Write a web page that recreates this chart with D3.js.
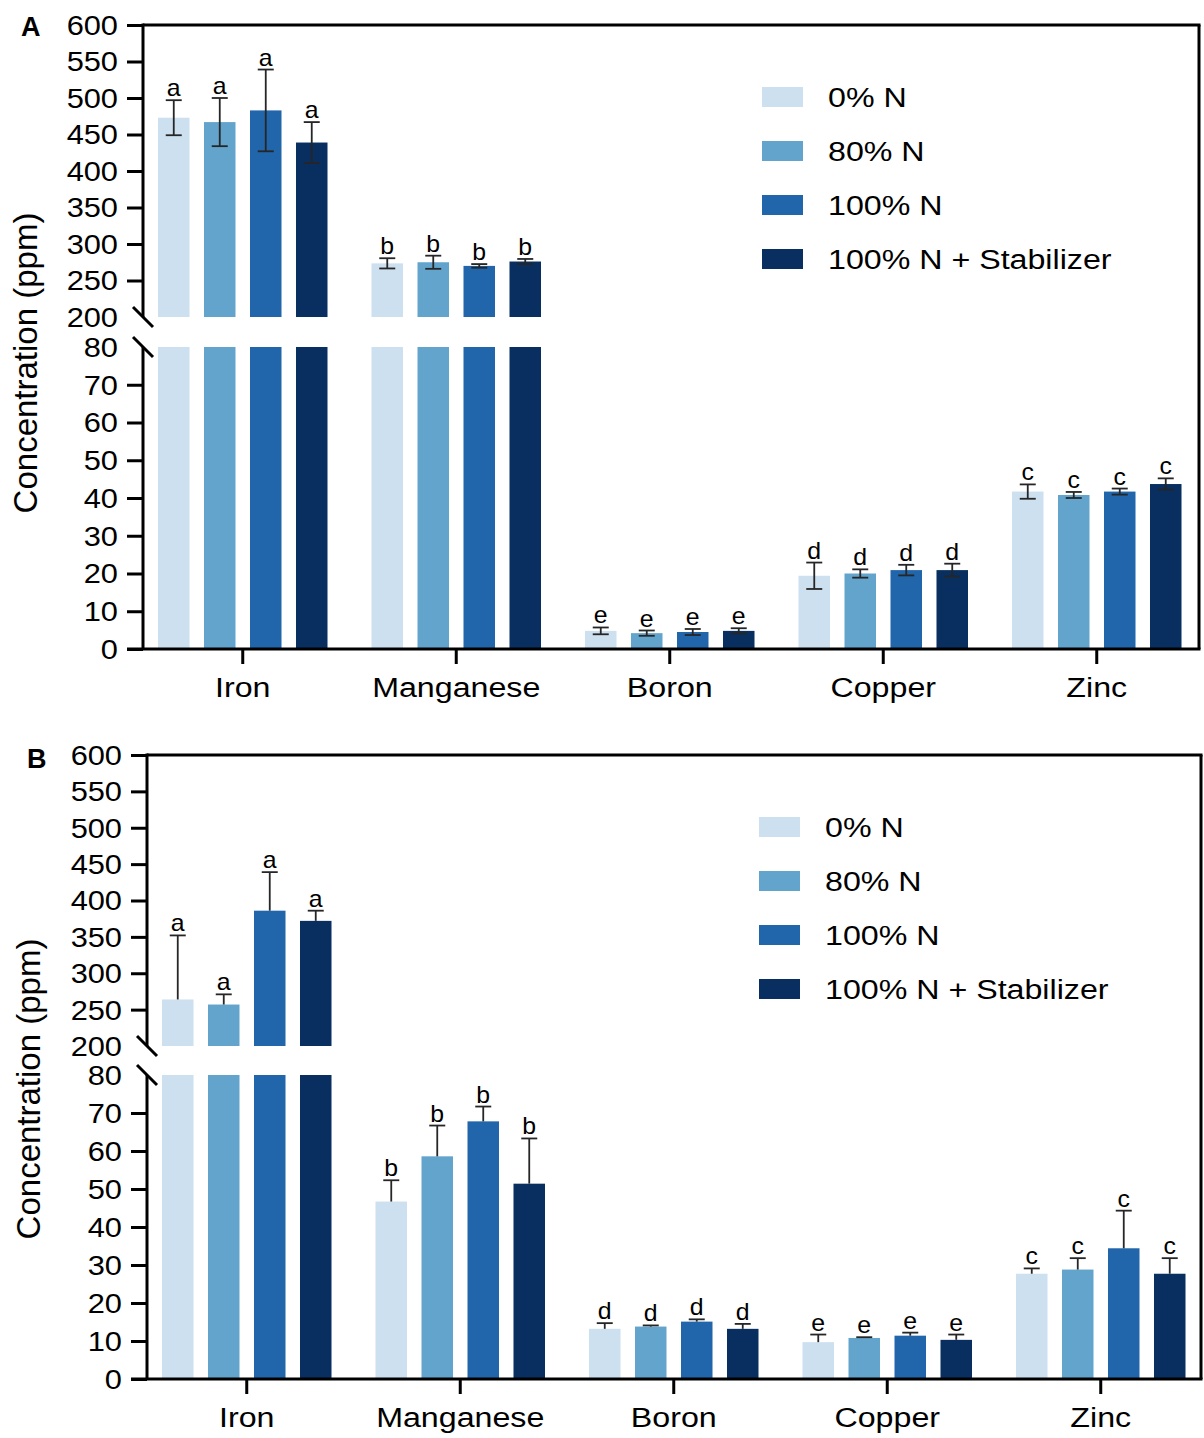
<!DOCTYPE html>
<html>
<head>
<meta charset="utf-8">
<script src="https://cdn.jsdelivr.net/npm/d3@7"></script>
<style>
  body { margin: 0; background: #fff; }
  svg { display: block; }
  text { font-family: "Liberation Sans", Arial, Helvetica, sans-serif; fill: #000; }
</style>
</head>
<body>
<svg id="chart" width="1204" height="1438"></svg>
<script>
// Micronutrient concentrations (ppm), mean and SD for each treatment
const categories = ["Iron", "Manganese", "Boron", "Copper", "Zinc"];
const series = ["0% N", "80% N", "100% N", "100% N + Stabilizer"];
const colors = ["#cde0f0", "#63a4cd", "#2165ab", "#082f60"];

// Panel A
const ironA = [473, 467, 483, 439];
const ironA_sd = [24, 33, 56, 28];
const manganeseA = [273.5, 275, 270, 276];
const manganeseA_sd = [7, 9, 2.5, 3.5];
const boronA = [4.8, 4.2, 4.5, 4.8];
const boronA_sd = [0.9, 0.7, 0.8, 0.7];
const copperA = [19.4, 20.0, 20.9, 20.9];
const copperA_sd = [3.5, 1.1, 1.4, 1.7];
const zincA = [41.7, 40.8, 41.7, 43.7];
const zincA_sd = [1.9, 0.8, 0.8, 1.5];
const lettersA = ["a", "b", "e", "d", "c"];

// Panel B
const ironB = [264, 257, 386, 372];
const ironB_sd = [88, 14, 53, 14];
const manganeseB = [46.7, 58.6, 67.8, 51.4];
const manganeseB_sd = [5.6, 8.1, 3.9, 11.9];
const boronB = [13.2, 13.8, 15.1, 13.2];
const boronB_sd = [1.5, 0.3, 0.6, 1.3];
const copperB = [9.7, 10.8, 11.4, 10.3];
const copperB_sd = [2.0, 0.2, 0.8, 1.4];
const zincB = [27.7, 28.8, 34.4, 27.7];
const zincB_sd = [1.4, 3.0, 9.9, 4.1];
const lettersB = ["a", "b", "d", "e", "c"];

// Broken y axis: upper segment 200–600, lower segment 0–80
const upperTicks = [200, 250, 300, 350, 400, 450, 500, 550, 600];
const lowerTicks = [0, 10, 20, 30, 40, 50, 60, 70, 80];

const panels = [
  {
    name: "A", top: 25, left: 143, right: 1199, hiY: 317, loY: 347, bottom: 649,
    bandStart: 136, legendX: 762, titleX: 25, titleY: 363, tagX: 21, tagY: 36,
    means: [ironA, manganeseA, boronA, copperA, zincA],
    sds: [ironA_sd, manganeseA_sd, boronA_sd, copperA_sd, zincA_sd],
    letters: lettersA, twoSided: true
  },
  {
    name: "B", top: 755, left: 147, right: 1201, hiY: 1046, loY: 1075, bottom: 1379,
    bandStart: 140, legendX: 759, titleX: 28, titleY: 1089, tagX: 27, tagY: 768,
    means: [ironB, manganeseB, boronB, copperB, zincB],
    sds: [ironB_sd, manganeseB_sd, boronB_sd, copperB_sd, zincB_sd],
    letters: lettersB, twoSided: false
  }
];

const svg = d3.select("#chart");
const AX = "#000";
const AXW = 3;

// text with a slight horizontal widening
function stext(g, x, y, str, size, anchor, sx, baseline) {
  return g.append("text")
    .attr("transform", `translate(${x},${y}) scale(${sx},1)`)
    .attr("text-anchor", anchor)
    .attr("dominant-baseline", baseline || "auto")
    .attr("font-size", size)
    .text(str);
}

panels.forEach(p => {
  const g = svg.append("g");

  const yU = d3.scaleLinear().domain([200, 600]).range([p.hiY, p.top]);
  const yL = d3.scaleLinear().domain([0, 80]).range([p.bottom, p.loY]);
  const yAt = v => (v > 140 ? yU(v) : yL(v));

  const step = 213.5;
  const x0 = d3.scaleBand().domain(categories)
    .range([p.bandStart, p.bandStart + step * categories.length]).padding(0);
  const x1 = d3.scaleBand().domain(series).range([-84.75, 84.75])
    .paddingInner(0.315).paddingOuter(0);
  const cx = c => x0(c) + x0.bandwidth() / 2;

  // bars
  categories.forEach((c, ci) => {
    series.forEach((s, si) => {
      const v = p.means[ci][si];
      const xb = cx(c) + x1(s);
      const w = x1.bandwidth();
      const lowTop = yL(Math.min(v, 80));
      g.append("rect").attr("x", xb).attr("width", w)
        .attr("y", lowTop).attr("height", yL(0) - lowTop)
        .attr("fill", colors[si]);
      if (v > 200) {
        g.append("rect").attr("x", xb).attr("width", w)
          .attr("y", yU(v)).attr("height", yU(200) - yU(v))
          .attr("fill", colors[si]);
      }
    });
  });

  // error bars and significance letters
  categories.forEach((c, ci) => {
    series.forEach((s, si) => {
      const v = p.means[ci][si];
      const e = p.sds[ci][si];
      const xm = cx(c) + x1(s) + x1.bandwidth() / 2;
      const yTop = yAt(v + e);
      const yBot = p.twoSided ? yAt(v - e) : yAt(v);
      const eg = g.append("g").attr("stroke", "#262626").attr("stroke-width", 1.8).attr("fill", "none");
      eg.append("line").attr("x1", xm).attr("x2", xm).attr("y1", yTop).attr("y2", yBot);
      eg.append("line").attr("x1", xm - 8).attr("x2", xm + 8).attr("y1", yTop).attr("y2", yTop);
      if (p.twoSided) {
        eg.append("line").attr("x1", xm - 8).attr("x2", xm + 8).attr("y1", yBot).attr("y2", yBot);
      }
      stext(g, xm, yTop - 4, p.letters[ci], 23, "middle", 1.08);
    });
  });

  // left axis ticks
  const tickG = g.append("g").attr("transform", `translate(${p.left},0)`);
  tickG.append("g").call(d3.axisLeft(yU).tickValues(upperTicks.filter(t => t > 200)).tickSize(16).tickFormat(""))
    .call(a => a.select(".domain").remove())
    .call(a => a.selectAll("line").attr("stroke", AX).attr("stroke-width", AXW));
  tickG.append("g").call(d3.axisLeft(yL).tickValues(lowerTicks.filter(t => t < 80)).tickSize(16).tickFormat(""))
    .call(a => a.select(".domain").remove())
    .call(a => a.selectAll("line").attr("stroke", AX).attr("stroke-width", AXW));

  upperTicks.forEach(t => stext(g, p.left - 25, yU(t), String(t), 28, "end", 1.1, "central"));
  lowerTicks.forEach(t => stext(g, p.left - 25, yL(t), String(t), 28, "end", 1.1, "central"));

  // left axis with break
  const ax = g.append("g").attr("stroke", AX).attr("stroke-width", AXW).attr("fill", "none");
  ax.append("line").attr("x1", p.left).attr("x2", p.left).attr("y1", yU(600) - 1.5).attr("y2", yU(200));
  ax.append("line").attr("x1", p.left).attr("x2", p.left).attr("y1", yL(80)).attr("y2", yL(0));
  [yU(200), yL(80)].forEach(yy => {
    ax.append("line").attr("x1", p.left - 10).attr("x2", p.left + 10)
      .attr("y1", yy - 10).attr("y2", yy + 10);
  });

  // frame: top, right, bottom
  ax.append("line").attr("x1", p.left).attr("x2", p.right + 1.5).attr("y1", p.top).attr("y2", p.top);
  ax.append("line").attr("x1", p.right).attr("x2", p.right).attr("y1", p.top).attr("y2", p.bottom);
  ax.append("line").attr("x1", p.left - 16).attr("x2", p.right + 1.5).attr("y1", p.bottom).attr("y2", p.bottom);

  // x axis ticks and category labels
  g.append("g").attr("transform", `translate(0,${p.bottom})`)
    .call(d3.axisBottom(x0).tickSize(15).tickFormat(""))
    .call(a => a.select(".domain").remove())
    .call(a => a.selectAll("line").attr("stroke", AX).attr("stroke-width", AXW));
  categories.forEach(c => stext(g, cx(c), p.bottom + 48, c, 28, "middle", 1.15));

  // y axis title
  g.append("text")
    .attr("transform", `translate(${p.titleX},${p.titleY}) rotate(-90)`)
    .attr("text-anchor", "middle").attr("dominant-baseline", "central")
    .attr("font-size", 33).text("Concentration (ppm)");

  // panel tag
  g.append("text").attr("x", p.tagX).attr("y", p.tagY)
    .attr("font-size", 27).attr("font-weight", "bold").text(p.name);

  // legend
  series.forEach((s, si) => {
    const ry = p.top + 72 + si * 54;
    g.append("rect").attr("x", p.legendX).attr("y", ry - 10)
      .attr("width", 41).attr("height", 20).attr("fill", colors[si]);
    stext(g, p.legendX + 66, ry, s, 28, "start", 1.15, "central");
  });
});
</script>
</body>
</html>
